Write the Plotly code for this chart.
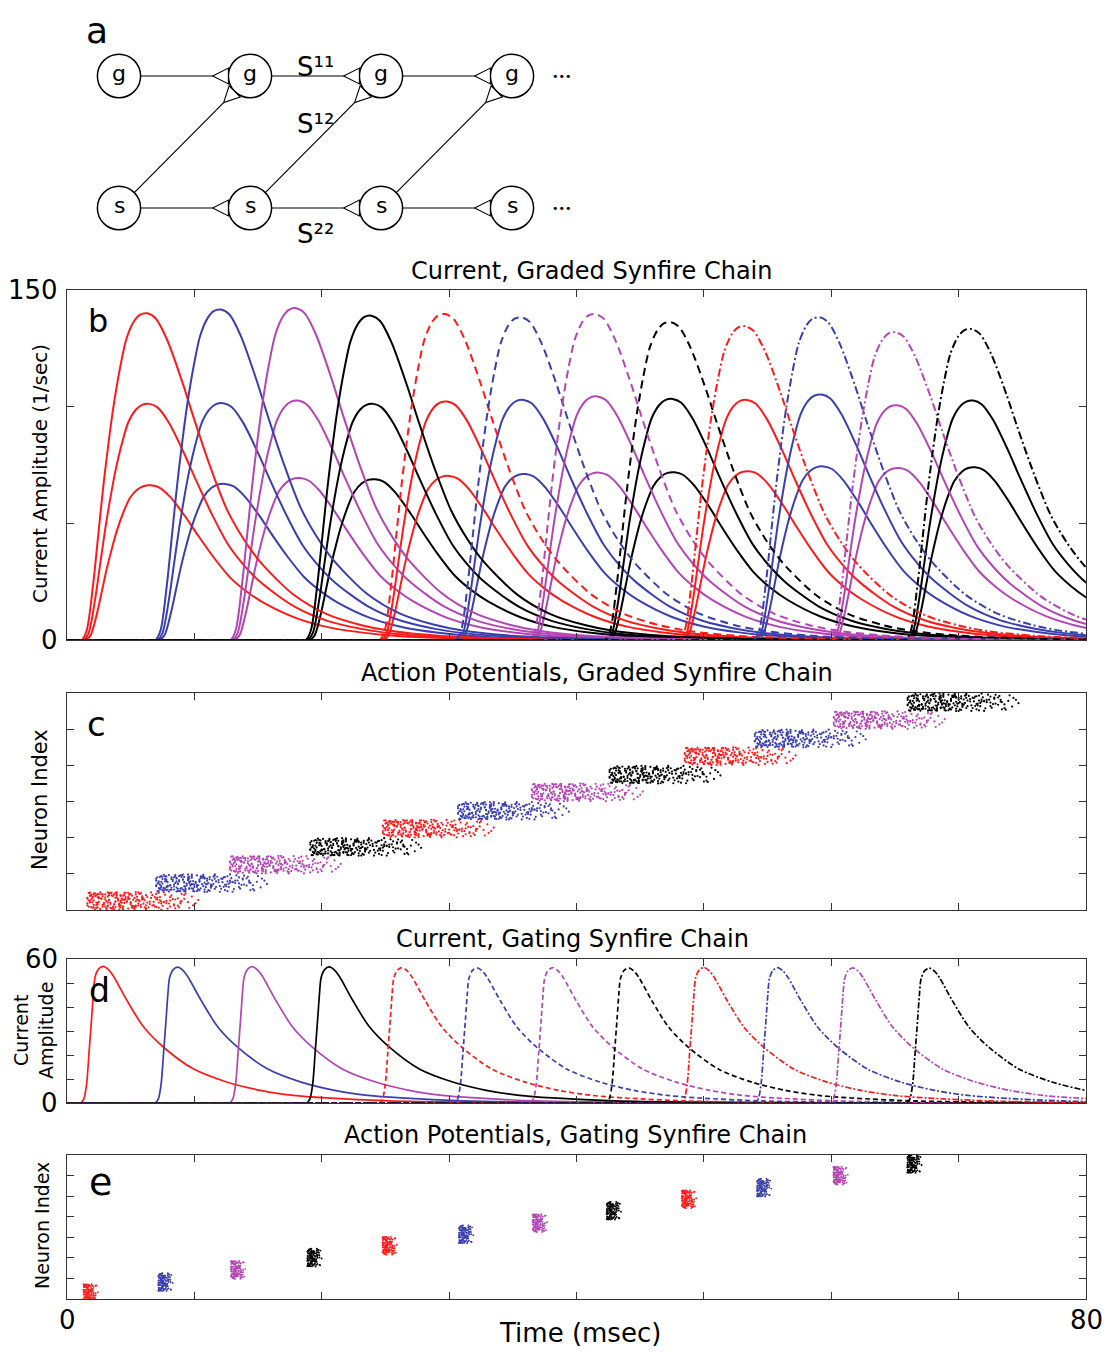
import plotly.graph_objects as go

W, H = 1116, 1353
OX, OY = 8, 8          # page margin of the browser body

# ---------------- panel a : network diagram ----------------
node_cols = [0, 1, 2, 3]
node_rows = [1, 0]                      # 1 = "g" row, 0 = "s" row
row_labels = {1: "g", 0: "s"}
edges_from = [(0, 1), (1, 1), (2, 1), (0, 0), (1, 0), (2, 0), (0, 0), (1, 0), (2, 0)]
edges_to = [(1, 1), (2, 1), (3, 1), (1, 0), (2, 0), (3, 0), (1, 1), (2, 1), (3, 1)]
syn_labels = ["S¹¹", "S¹²", "S²²"]
syn_label_x = [1.5, 1.5, 1.5]
syn_label_y = [1.068, 0.636, -0.197]

# ---------------- panel b : graded chain currents ----------------
b_peak_times = [6.3, 12.1, 18.0, 23.9, 29.7, 35.7, 41.5, 47.4, 53.25, 59.1, 65.05, 71.0]
b_amp_top = [140.0, 141.6, 142.2, 139.0, 139.7, 138.3, 139.7, 136.2, 134.5, 138.3, 131.9, 133.3]
b_amp_mid = [101.2, 101.5, 102.6, 101.2, 102.2, 102.9, 104.4, 103.3, 102.9, 105.2, 100.6, 102.6]
b_amp_low = [66.3, 66.9, 69.4, 68.9, 70.3, 71.1, 71.7, 71.9, 72.3, 74.4, 73.7, 74.0]
# normalised current profile (ms after onset, fraction of peak)
b_tpl_t = [0, 0.4, 0.9, 1.3, 1.7, 2.1, 2.5, 3.0, 3.5, 4.1, 4.6, 5.15, 5.8, 6.7, 7.9, 8.8,
           10.1, 11.4, 12.7, 14.0, 16.6, 19.2, 21.9, 24.2, 28, 34, 45, 80]
b_tpl_f = [0, 0.03, 0.17, 0.32, 0.47, 0.60, 0.715, 0.83, 0.92, 0.975, 0.996, 1.0, 0.985, 0.92,
           0.79, 0.68, 0.53, 0.40, 0.31, 0.24, 0.14, 0.08, 0.046, 0.028, 0.013, 0.004, 0.001, 0]
b_tpl_peak = 5.15

# ---------------- panel c : graded chain rasters ----------------
c_start_times = [1.5, 6.9, 12.7, 19.0, 24.7, 30.6, 36.4, 42.5, 48.4, 53.9, 60.1, 65.9]
c_band_start = [0, 100, 200, 300, 400, 500, 600, 700, 800, 900, 1000, 1100]

# ---------------- panel d : gating chain currents ----------------
d_peak_times = [2.85, 8.7, 14.55, 20.6, 26.3, 32.2, 38.15, 44.1, 50.0, 55.8, 61.7, 67.7]
d_amp = [56.9, 56.6, 56.8, 56.7, 56.4, 56.3, 56.4, 56.3, 56.5, 56.4, 56.3, 56.2]
d_tpl_t = [0, 0.25, 0.47, 0.67, 0.87, 1.0, 1.13, 1.4, 1.78, 2.2, 2.57, 3.61, 4.92, 6.49,
           8.84, 11.46, 14.1, 16.7, 19.3, 24.2, 30, 40, 80]
d_tpl_f = [0, 0.03, 0.14, 0.38, 0.63, 0.80, 0.92, 0.98, 1.0, 0.975, 0.93, 0.755, 0.56, 0.41,
           0.25, 0.154, 0.093, 0.056, 0.037, 0.015, 0.006, 0.002, 0]
d_tpl_peak = 1.78

# ---------------- panel e : gating chain rasters ----------------
e_center_t = [1.73, 7.6, 13.3, 19.3, 25.2, 31.2, 37.0, 42.8, 48.7, 54.6, 60.6, 66.4]
e_center_n = [58, 166, 284, 404, 518, 630, 738, 860, 970, 1084, 1200, 1314]

# spike pattern within a volley: "TTNN" = time offset (0.1 ms), neuron offset in pool
spike_pool = """
0512 1287 2345 0938 3371 4702 1856 2619 0295 3948 2783 4126 1065 5033 3590 0777 4458 2231 1649 3804
2470 0163 3722 1518 4289 0841 2956 3613 1197 4535 0628 2008 3361 1882 5167 0350 2714 4073 1439 3196
0989 2562 4841 1724 3057 2395 0416 5282 1933 3679 2840 0574 4317 1261 3925 2117 0792 4654 3486 1070
2629 4198 0341 3812 1586 2903 4460 0126 3244 1797 2081 5419 0653 3537 2368 1912 4726 0485 2750 3999
1328 0704 3160 2488 4872 1045 2231 3756 0567 4393 1612 2979 0218 3485 5046 1853 2602 0931 4137 3308
2095 4564 0882 1376 3621 2744 0459 4915 1723 3082 2316 0137 3867 1558 2497 4250 0686 3172 1941 2859
0396 3543 2178 4709 1264 0812 3395 2631 5198 1087 2920 4058 0543 1775 3714 2286 4467 0972 1606 3039
2553 1431 0167 3986 2725 4614 1893 0378 3249 2107 4782 1318 0615 2864 3531 1995 0253 4329 2482 1066
3817 0691 2347 1569 4155 0914 2778 3462 1106 5345 0481 2635 3920 1741 0827 4476 2203 3094 1387 2911
5872 6145 5658 6931 7224 5517 6408 7783 5936 6652 8112 5795 6337 7446 5589 6860 7549 8374 6023 5741
6619 7058 5902 8637 6284 7315 5471 6925 7891 5668 6143 8426 7009 5854 6536 7762 5327 6198 8855 7264
5560 6781 7437 5946 6350 8043 5713 6672 7589 5225
""".split()
pool_dt = [int(s[:2]) for s in spike_pool]
pool_dn = [int(s[2:]) for s in spike_pool]

x_label_vals = [0, 80]
b_label_vals = [0, 150]
d_label_vals = [0, 60]

group_colors = ["#ff1a1a", "#3a3fae", "#b445b4", "#000000"]
b_top_dash = ["solid"] * 4 + ["8px,5px"] * 4 + ["8px,3px,2px,3px"] * 4
d_dash = ["solid"] * 4 + ["5px,3px"] * 4 + ["6px,2px,2px,2px"] * 4

FONT = "DejaVu Sans"


def P(xpx, ypx):
    return (xpx - OX) / W, 1 - (ypx - OY) / H


def ydom(top, bottom):
    return [1 - (bottom - OY) / H, 1 - (top - OY) / H]


def profile(onset, amp, tpl_t, tpl_f):
    xs = [0.0, max(onset - 0.3, 0.0)] + [onset + t for t in tpl_t]
    ys = [0.0, 0.0] + [amp * f for f in tpl_f]
    return xs, ys


fig = go.Figure()

# ---- panel b traces ----
for lvl, (amps, shift) in enumerate([(b_amp_low, 0.3), (b_amp_mid, 0.15), (b_amp_top, 0.0)]):
    for k in range(12):
        onset = b_peak_times[k] - b_tpl_peak + shift
        xs, ys = profile(onset, amps[k], b_tpl_t, b_tpl_f)
        dash = b_top_dash[k] if lvl == 2 else "solid"
        fig.add_trace(go.Scatter(x=xs, y=ys, mode="lines", xaxis="x2", yaxis="y2",
                                 line=dict(color=group_colors[k % 4], width=2, dash=dash,
                                           shape="spline", smoothing=0.8),
                                 showlegend=False, hoverinfo="skip"))

# ---- panel c traces ----
for k in range(12):
    xs = [c_start_times[k] + dt * 0.1 for dt in pool_dt]
    ys = [c_band_start[k] + (dn if k % 2 == 0 else 99 - dn) for dn in pool_dn]
    fig.add_trace(go.Scatter(x=xs, y=ys, mode="markers", xaxis="x3", yaxis="y3",
                             marker=dict(color=group_colors[k % 4], size=2.2, line=dict(width=0)),
                             showlegend=False, hoverinfo="skip"))

# ---- panel d traces ----
for k in range(12):
    onset = d_peak_times[k] - d_tpl_peak
    xs, ys = profile(onset, d_amp[k], d_tpl_t, d_tpl_f)
    fig.add_trace(go.Scatter(x=xs, y=ys, mode="lines", xaxis="x4", yaxis="y4",
                             line=dict(color=group_colors[k % 4], width=1.7, dash=d_dash[k],
                                       shape="spline", smoothing=0.8),
                             showlegend=False, hoverinfo="skip"))

# ---- panel e traces ----
for k in range(12):
    xs = [e_center_t[k] - 0.45 + dt * 0.013 for dt in pool_dt[::2]]
    ys = [e_center_n[k] - 90 + (dn if k % 2 == 0 else 99 - dn) * 1.8 for dn in pool_dn[::2]]
    fig.add_trace(go.Scatter(x=xs, y=ys, mode="markers", xaxis="x5", yaxis="y5",
                             marker=dict(color=group_colors[k % 4], size=1.9, line=dict(width=0)),
                             showlegend=False, hoverinfo="skip"))

# ---- panel a shapes ----
R, TL, TW = 0.165, 0.12, 0.06
shapes = []
annotations = []
for r in node_rows:
    for c in node_cols:
        shapes.append(dict(type="circle", xref="x", yref="y", x0=c - R, x1=c + R, y0=r - R, y1=r + R,
                           line=dict(color="black", width=1.5), fillcolor="white", layer="above"))
        annotations.append(dict(x=c, y=r + 0.02, xref="x", yref="y", text=row_labels[r], showarrow=False,
                                font=dict(family=FONT, size=22, color="black")))
    annotations.append(dict(x=3.38, y=r, xref="x", yref="y", text="•••", showarrow=False,
                            font=dict(family=FONT, size=11, color="black")))

for (c0, r0), (c1, r1) in zip(edges_from, edges_to):
    dx, dy = c1 - c0, r1 - r0
    n = (dx * dx + dy * dy) ** 0.5
    ux, uy = dx / n, dy / n
    sx, sy = c0 + R * ux, r0 + R * uy
    bx, by = c1 - R * ux, r1 - R * uy
    ax_, ay_ = bx - TL * ux, by - TL * uy
    shapes.append(dict(type="line", xref="x", yref="y", x0=sx, y0=sy, x1=ax_, y1=ay_,
                       line=dict(color="black", width=1.2)))
    px_, py_ = -uy, ux
    path = "M {:.4f},{:.4f} L {:.4f},{:.4f} L {:.4f},{:.4f} Z".format(
        ax_, ay_, bx + TW * px_, by + TW * py_, bx - TW * px_, by - TW * py_)
    shapes.append(dict(type="path", xref="x", yref="y", path=path,
                       line=dict(color="black", width=1.1), fillcolor="white"))

for t, xx, yy in zip(syn_labels, syn_label_x, syn_label_y):
    annotations.append(dict(x=xx, y=yy, xref="x", yref="y", text=t, showarrow=False,
                            font=dict(family=FONT, size=26, color="black")))


def ann(text, xpx, ypx, size, angle=0, xanchor="center", yanchor="middle", xref="paper", xval=None):
    x, y = P(xpx, ypx)
    annotations.append(dict(x=x if xval is None else xval, y=y, xref=xref, yref="paper", text=text,
                            showarrow=False, textangle=angle, xanchor=xanchor, yanchor=yanchor,
                            font=dict(family=FONT, size=size, color="black")))


ann("a", 97, OY, 36, yanchor="top")
ann("b", 98, 321, 32)
ann("c", 96, 724, 34)
ann("d", 99, 990, 33)
ann("e", 100, 1182, 38)
ann("Current, Graded Synfire Chain", 592, 271, 24)
ann("Action Potentials, Graded Synfire Chain", 597, 673, 24)
ann("Current, Gating Synfire Chain", 572, 939, 24)
ann("Action Potentials, Gating Synfire Chain", 575, 1135, 24)
ann("Current Amplitude (1/sec)", 40, 474, 20, -90)
ann("Neuron Index", 40, 800, 21, -90)
ann("Current<br>Amplitude", 33, 1031, 19, -90)
ann("Neuron Index", 42, 1226, 19, -90)
ann("Time (msec)", 580, 1333, 26)

# tick labels
for v in x_label_vals:
    ann(str(v), 0, 1320, 26, xref="x5", xval=v)
for v in b_label_vals:
    x, _ = P(60, 0)
    annotations.append(dict(x=x, y=v, xref="paper", yref="y2", text=str(v), showarrow=False,
                            xanchor="right", font=dict(family=FONT, size=26, color="black")))
for v in d_label_vals:
    x, _ = P(60, 0)
    annotations.append(dict(x=x, y=v, xref="paper", yref="y4", text=str(v), showarrow=False,
                            xanchor="right", font=dict(family=FONT, size=26, color="black")))

# ---- axes ----
xdom = [(67 - OX) / W, (1086 - OX) / W]
base = dict(showline=True, linecolor="#333", linewidth=1.3, mirror="ticks", ticks="inside",
            ticklen=7, tickcolor="#333", tickwidth=1.2, showgrid=False, zeroline=False,
            fixedrange=True, showticklabels=False, automargin=False)
xticks = list(range(0, 81, 10))

layout = dict(
    width=W, height=H, margin=dict(l=0, r=0, t=0, b=0, pad=0, autoexpand=False),
    autosize=False,
    paper_bgcolor="white", plot_bgcolor="white", showlegend=False,
    font=dict(family=FONT, color="black"),
    xaxis=dict(domain=[0, 1], range=[(OX - 119) / 131, (OX + W - 119) / 131], visible=False,
               anchor="y", fixedrange=True, automargin=False),
    yaxis=dict(domain=ydom(OY, 250), range=[(208 - 250) / 132, (208 - OY) / 132], visible=False,
               anchor="x", fixedrange=True, automargin=False),
    xaxis2=dict(base, domain=xdom, range=[0, 80], anchor="y2", tickvals=xticks),
    yaxis2=dict(base, domain=ydom(290, 640), range=[0, 150], anchor="x2", tickvals=[0, 50, 100, 150]),
    xaxis3=dict(base, domain=xdom, range=[0, 80], anchor="y3", tickvals=xticks),
    yaxis3=dict(base, domain=ydom(693, 910), range=[0, 1200], anchor="x3",
                tickvals=list(range(0, 1201, 200))),
    xaxis4=dict(base, domain=xdom, range=[0, 80], anchor="y4", tickvals=xticks),
    yaxis4=dict(base, domain=ydom(959, 1103), range=[0, 60], anchor="x4",
                tickvals=list(range(0, 61, 10))),
    xaxis5=dict(base, domain=xdom, range=[0, 80], anchor="y5", tickvals=xticks),
    yaxis5=dict(base, domain=ydom(1155, 1299), range=[0, 1400], anchor="x5",
                tickvals=list(range(0, 1401, 200))),
    shapes=shapes, annotations=annotations, hovermode=False,
)
fig.update_layout(**layout)
fig.write_html("out.html")
